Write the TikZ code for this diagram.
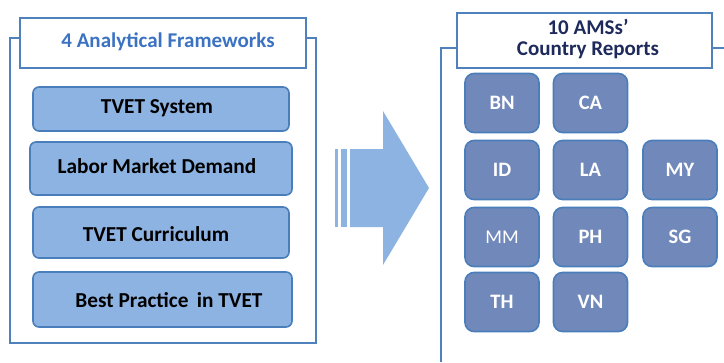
\documentclass[tikz,border=0pt]{standalone}
\usepackage{fontspec}
\setmainfont{Carlito}
\definecolor{frameblue}{HTML}{4F81BD}
\definecolor{lightfill}{HTML}{8DB3E2}
\definecolor{boxedge}{HTML}{4A7EBB}
\definecolor{ctryfill}{HTML}{7189BA}
\definecolor{titleblue}{HTML}{3B72C2}
\definecolor{navy}{HTML}{1F2A5C}
\begin{document}
\begin{tikzpicture}[x=1pt,y=-1pt,
  framebox/.style={draw=frameblue,line width=2pt,fill=white,inner sep=0pt},
  fwbox/.style={draw=boxedge,line width=1.6pt,fill=lightfill,rounded corners=6pt,inner sep=0pt},
  fwtext/.style={font=\bfseries\fontsize{21.3}{23}\selectfont,text=black},
  ctry/.style={draw=boxedge,line width=1.6pt,fill=ctryfill,rounded corners=9pt,minimum width=74pt,minimum height=59pt,inner sep=0pt,font=\bfseries\fontsize{20.5}{22}\selectfont,text=white}]
\useasboundingbox (0,0) rectangle (724,362);
% left frame
\coordinate (lf1) at (10,38);
\coordinate (lf2) at (10,343);
\coordinate (lf3) at (316,343);
\coordinate (lf4) at (316,38);
\draw[frameblue,line width=2pt] (lf1) -- (lf2) -- (lf3) -- (lf4) -- cycle;
\node[framebox,minimum width=286pt,minimum height=50pt] (ltitle) at (163,43) {};
\node[text=titleblue,font=\bfseries\fontsize{21}{23}\selectfont] (ltitletext) at (168,42) {4 Analytical Frameworks};
% framework boxes
\node[fwbox,minimum width=256pt,minimum height=44pt] (f1) at (161,109) {};
\node[fwtext] (f1t) at (157,108) {TVET System};
\node[fwbox,minimum width=262pt,minimum height=53pt] (f2) at (161,168.5) {};
\node[fwtext] (f2t) at (157,166) {Labor Market Demand};
\node[fwbox,minimum width=256pt,minimum height=51pt] (f3) at (161,232.5) {};
\node[fwtext] (f3t) at (156,234) {TVET Curriculum};
\node[fwbox,minimum width=259pt,minimum height=55pt] (f4) at (162.5,299.5) {};
\node[fwtext] (f4t) at (169,300) {Best Practice\, in TVET};
% arrow
\fill[lightfill] (335,149) rectangle (338,227);
\fill[lightfill] (341,149) rectangle (347,227);
\fill[lightfill] (350,149) -- (383,149) -- (383,111) -- (429,188) -- (383,265) -- (383,227) -- (350,227) -- cycle;
% right frame
\coordinate (rf1) at (724,48);
\coordinate (rf2) at (441,48);
\coordinate (rf3) at (441,362);
\draw[frameblue,line width=2pt] (rf1) -- (rf2) -- (rf3);
\node[framebox,minimum width=255pt,minimum height=55pt] (rtitle) at (584.5,40.5) {};
\node[text=navy,font=\bfseries\fontsize{21}{21}\selectfont,align=center] (rtitletext) at (588,39) {10 AMSs’\\Country Reports};
% countries
\node[ctry] (BN) at (502,103) {BN};
\node[ctry] (CA) at (590.5,103) {CA};
\node[ctry] (ID) at (502,170) {ID};
\node[ctry] (LA) at (590.5,170) {LA};
\node[ctry] (MY) at (680,170) {MY};
\node[ctry,font=\fontsize{19.5}{21}\selectfont] (MM) at (502,237) {MM};
\node[ctry] (PH) at (590.5,237) {PH};
\node[ctry] (SG) at (680,237) {SG};
\node[ctry] (TH) at (502,302) {TH};
\node[ctry] (VN) at (590.5,302) {VN};
\end{tikzpicture}
\end{document}
